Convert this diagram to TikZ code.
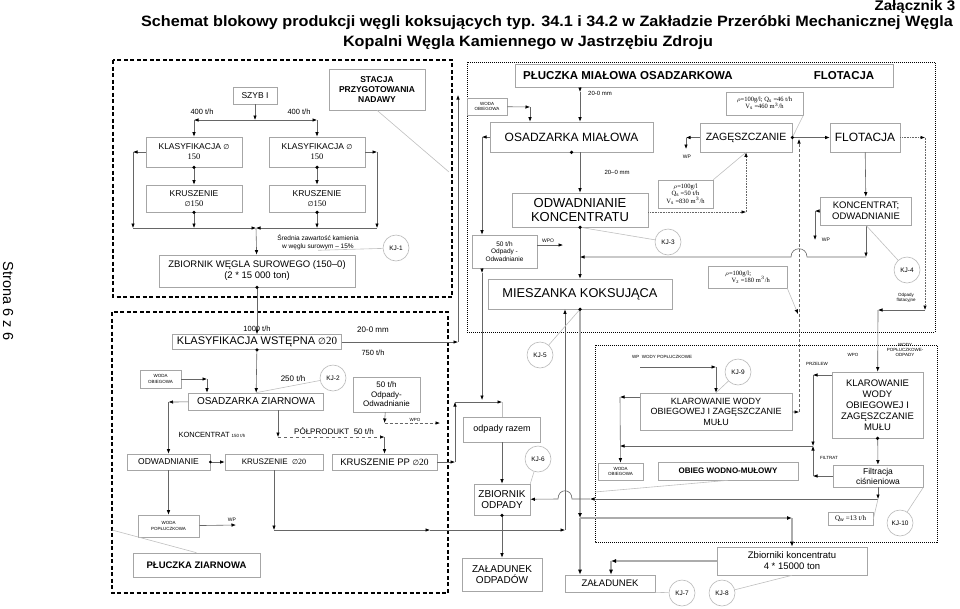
\documentclass[tikz,border=0pt]{standalone}
\usepackage{fontspec}
\setmainfont{Liberation Sans}
\newfontfamily\tnr{Liberation Serif}
\newfontfamily\dejavu{DejaVu Sans}
\usetikzlibrary{arrows.meta,positioning}
\newcommand{\fs}[2]{\fontsize{#1}{#2}\selectfont}
\newcommand{\srednica}{{\dejavu\char"2205}}
\tikzset{
  blok/.style={draw=gray!70, fill=white, line width=0.6pt, inner sep=1pt,
    align=center, font=\fs{8}{9.5}},
  wym/.style 2 args={minimum width=#1pt, minimum height=#2pt},
  strz/.style={-{Latex[length=4.5pt,width=3.5pt,color=black]}, draw=black!60, line width=0.6pt},
  gruba/.style={-{Latex[length=5pt,width=4pt,color=black]}, draw=gray!65, line width=1.8pt},
  lider/.style={draw=gray!50, line width=0.6pt},
  kj/.style={circle, draw=gray!55, fill=white, line width=0.6pt,
    minimum size=26pt, inner sep=0pt, font=\fs{6.5}{7}},
  opis/.style={font=\fs{7.5}{9}, inner sep=0.5pt, align=center},
  drobny/.style={font=\fs{4.5}{5}, inner sep=0.3pt, align=center},
  ro/.style={blok, font=\tnr\fs{6.5}{7.5}},
  obszarP/.style={draw=black, line width=1.3pt, dash pattern=on 4pt off 2.5pt},
  obszarK/.style={draw=black, line width=1pt, dash pattern=on 1pt off 1pt},
}
\begin{document}
\begin{tikzpicture}[x=1pt,y=-1pt]
  \useasboundingbox (0,0) rectangle (960,608);

  % naglowek
  \node[font=\bfseries\fs{14}{16}, xscale=1.08, anchor=east] (zal) at (959,7) {Załącznik 3};
  \node[font=\bfseries\fs{15}{17}, xscale=1.08] (tyt1) at (547,23)
    {Schemat blokowy produkcji węgli koksujących typ. 34.1 i 34.2 w Zakładzie Przeróbki Mechanicznej Węgla};
  \node[font=\bfseries\fs{15}{17}, xscale=1.08] (tyt2) at (528,43)
    {Kopalni Węgla Kamiennego w Jastrzębiu Zdroju};
  \node[font=\fs{14.5}{16}, rotate=-90] (strona) at (8,301) {Strona 6 z 6};

  % granice obszarow
  \draw[obszarP] (113,60) rectangle (452,297);
  \draw[obszarP] (112,312) rectangle (448,593);
  \draw[obszarK] (467,62) rectangle (935,332);
  \draw[obszarK] (595,345) rectangle (937,542);

  % --- wezel szybowy
  \node[blok, wym={44}{17}, font=\fs{8.5}{10}] (szyb) at (255,95.5) {SZYB I};
  \node[blok, wym={96}{41}, font=\bfseries\fs{8.5}{10}] (stacja) at (377,89.5)
    {STACJA\\PRZYGOTOWANIA\\NADAWY};
  \node[blok, wym={96}{30}, font=\fs{8.5}{10}] (klasL) at (194,152) {KLASYFIKACJA {\fs{7}{8}\srednica}\\{\tnr 150}};
  \node[blok, wym={96}{30}, font=\fs{8.5}{10}] (klasP) at (317,152) {KLASYFIKACJA {\fs{7}{8}\srednica}\\{\tnr 150}};
  \node[blok, wym={96}{27}, font=\fs{8.5}{10}] (kruL) at (194,198.5) {KRUSZENIE\\{\fs{7}{8}\srednica}{\tnr 150}};
  \node[blok, wym={96}{27}, font=\fs{8.5}{10}] (kruP) at (317,198.5) {KRUSZENIE\\{\fs{7}{8}\srednica}{\tnr 150}};
  \node[blok, wym={196}{32}, font=\fs{9.5}{11}] (zbW) at (257,271)
    {ZBIORNIK WĘGLA SUROWEGO (150–0)\\(2 * 15 000 ton)};
  \node[opis, font=\fs{6.5}{8}] (sred) at (318,242)
    {Średnia zawartość kamienia\\w węglu surowym – 15\%};
  \node[kj] (kj1) at (396,248) {KJ-1};
  \node[opis] (t400a) at (202,112) {400 t/h};
  \node[opis] (t400b) at (299,112) {400 t/h};

  \coordinate (rozS) at (255,120);
  \coordinate (rozL) at (194,120);
  \coordinate (rozP) at (317,120);
  \coordinate (obL) at (133,152);
  \coordinate (obP) at (377,152);
  \coordinate (sumL) at (133,228);
  \coordinate (sumP) at (377,228);
  \coordinate (sumS) at (256,228);
  \coordinate (stacjaK) at (449,172);

  \draw[strz] (szyb) -- (rozS);
  \draw[strz] (rozS) -- (rozL);
  \draw[strz] (rozS) -- (rozP);
  \draw[strz] (rozL) -- (klasL);
  \draw[strz] (rozP) -- (klasP);
  \draw[strz] (klasL) -- (kruL);
  \draw[strz] (klasP) -- (kruP);
  \draw[strz] (klasL) -- (obL);
  \draw[strz] (klasP) -- (obP);
  \draw[strz] (obL) -- (sumL);
  \draw[strz] (obP) -- (sumP);
  \draw[strz] (sumL) -- (sumS);
  \draw[strz] (sumP) -- (sumS);
  \draw[strz] (kruL) -- (kruL |- sumS);
  \draw[strz] (kruP) -- (kruP |- sumS);
  \draw[strz] (sumS) -- (zbW);
  \draw[lider] (kj1) -- (sred.south);
  \draw[lider] (stacja.south) -- (stacjaK);

  % --- pluczka ziarnowa
  \node[blok, wym={169}{15}, font=\fs{11}{12}] (klasW) at (257,342)
    {KLASYFIKACJA WSTĘPNA {\fs{9}{10}\srednica}{\tnr 20}};
  \node[opis, above=2pt of klasW] (t1000) {1000 t/h};
  \node[opis, font=\fs{8}{9}] (t20a) at (373,330) {20-0 mm};
  \node[opis] (t750) at (373,353) {750 t/h};
  \node[blok, wym={135}{17}, font=\fs{10}{11}] (osZ) at (256,401.5) {OSADZARKA ZIARNOWA};
  \node[opis, font=\fs{8}{9}] (t250) at (293,379) {250 t/h};
  \node[kj] (kj2) at (333,378) {KJ-2};
  \node[blok, wym={41}{18}, font=\fs{4.5}{5.5}] (wodaZ) at (160.5,379) {WODA\\OBIEGOWA};
  \node[blok, wym={67}{35}] (odpZ) at (386.5,394.5) {50 t/h\\Odpady-\\Odwadnianie};
  \node[opis] (koncT) at (212,435) {KONCENTRAT {\fs{4.5}{5}150 t/h}};
  \node[opis, font=\fs{8}{9}] (ppT) at (334,431) {PÓŁPRODUKT \ 50 t/h};
  \node[drobny] (wpoZ) at (415,420) {WPO};
  \node[blok, wym={83}{16}, font=\fs{8.5}{10}] (odwZ) at (168.5,462) {ODWADNIANIE};
  \node[blok, wym={98}{16}] (kruZ) at (274,462) {KRUSZENIE \ {\fs{7}{8}\srednica}{\tnr 20}};
  \node[blok, wym={105}{16}, font=\fs{9.5}{11}] (kruPP) at (384.5,462) {KRUSZENIE PP {\fs{7.5}{8}\srednica}{\tnr 20}};
  \node[blok, wym={61}{22}, font=\fs{4.5}{5.5}] (wodaP) at (168.5,526) {WODA\\POPŁUCZKOWA};
  \node[drobny, font=\fs{5}{6}] (wpT) at (232,520) {WP};
  \node[blok, wym={127}{24}, font=\bfseries\fs{9.5}{11}] (plZ) at (196.5,565) {PŁUCZKA ZIARNOWA};

  \coordinate (k20) at (458,342);
  \coordinate (k20g) at (458,95);
  \coordinate (wodaZk) at (207,379);
  \coordinate (konc) at (168.5,402);
  \coordinate (pp1) at (278,437);
  \coordinate (pp2) at (384.5,437);
  \coordinate (wpo1) at (384.5,423);
  \coordinate (wpo2) at (440,423);
  \coordinate (pp3) at (455,462);
  \coordinate (pp4) at (455,402);
  \coordinate (pp5) at (502,402);
  \coordinate (wp) at (236,525);
  \coordinate (gr1) at (274,530);
  \coordinate (gr1b) at (430,530);
  \coordinate (gr2) at (565,530);
  \coordinate (lz) at (112,530);

  \draw[strz] (zbW) -- (klasW);
  \draw[strz] (klasW) -- (k20);
  \draw[strz] (k20) -- (k20g);
  \draw[strz] (klasW) -- (osZ);
  \draw[lider] (kj2) -- (osZ.north);
  \draw[strz] (wodaZ) -- (wodaZk);
  \draw[strz] (wodaZk) -- (wodaZk |- osZ.north);
  \draw[strz] (osZ) -- (konc);
  \draw[strz] (konc) -- (odwZ);
  \draw[strz] (osZ.south -| pp1) -- (pp1);
  \draw[strz, dashed] (pp1) -- (pp2);
  \draw[strz] (pp2) -- (kruPP);
  \draw[strz] (odpZ) -- (wpo1);
  \draw[strz, densely dashed] (wpo1) -- (wpo2);
  \draw[strz] (kruPP) -- (pp3);
  \draw[strz] (pp3) -- (pp4);
  \draw[strz] (pp4) -- (pp5);
  \draw[strz] (odwZ) -- (kruZ);
  \draw[strz] (odwZ) -- (wodaP);
  \draw[strz] (wodaP) -- (wp);
  \draw[strz] (kruZ) -- (gr1);
  \draw[strz] (gr1) -- (gr1b);
  \draw[strz] (gr1b) -- (gr2);
  \draw[lider] (plZ.north) -- (lz);

  % --- pluczka mialowa i flotacja
  \node[blok, wym={378}{23}] (plM) at (704,75.5) {};
  \node[font=\bfseries\fs{11.5}{13}] (plMt) at (628,75.5) {PŁUCZKA MIAŁOWA OSADZARKOWA};
  \node[font=\bfseries\fs{11.5}{13}] (flT) at (844,75.5) {FLOTACJA};
  \node[blok, wym={40}{17}, font=\fs{4.5}{5.5}] (wodaM) at (487,106.5) {WODA\\OBIEGOWA};
  \node[blok, wym={163}{30}, font=\fs{12}{14}] (osM) at (571.5,137) {OSADZARKA MIAŁOWA};
  \node[opis, font=\fs{6}{7}] (t20b) at (600,93) {20-0 mm};
  \node[opis, font=\fs{6}{7}] (t20c) at (617,172) {20–0 mm};
  \node[blok, wym={136}{34}, font=\fs{13}{14.5}] (odwK) at (580,210) {ODWADNIANIE\\KONCENTRATU};
  \node[blok, wym={184}{30}, font=\fs{12.8}{14}] (mies) at (580,294) {MIESZANKA KOKSUJĄCA};
  \node[kj] (kj3) at (668,242) {KJ-3};
  \node[blok, wym={65}{33}, font=\fs{6.5}{7.5}] (odpM) at (504.5,251.5) {50 t/h\\Odpady -\\Odwadnianie};
  \node[drobny, font=\fs{5}{6}] (wpoM) at (548,241) {WPO};
  \node[blok, wym={92}{29}, font=\fs{10.5}{12}] (zag) at (746,137.5) {ZAGĘSZCZANIE};
  \node[blok, wym={70}{29}, font=\fs{12}{14}] (flot) at (865,137.5) {FLOTACJA};
  \node[blok, wym={91}{28}, font=\fs{9.5}{11}] (koncO) at (866,211) {KONCENTRAT;\\ODWADNIANIE};
  \node[ro, wym={77}{23}] (ro1) at (764.5,103.5)
    {$\rho$=100g/l; Q$_\mathrm{s}$ =46 t/h\\V$_\mathrm{s}$ =460 m$^3$/h};
  \node[ro, wym={55}{28}] (ro2) at (685.5,194)
    {$\rho$=100g/l\\Q$_\mathrm{s}$ =50 t/h\\V$_\mathrm{s}$ =830 m$^3$/h};
  \node[ro, wym={79}{22}, align=left] (ro3) at (747.5,277)
    {$\rho$=100g/l;\\\quad V$_\mathrm{z}$ =180 m$^3$/h};
  \node[drobny, font=\fs{5}{6}] (wpZ) at (687,157) {WP};
  \node[drobny, font=\fs{5}{6}] (wpK) at (826,240) {WP};
  \node[kj] (kj4) at (907,270) {KJ-4};
  \node[drobny] (odfl) at (906,298) {Odpady\\flotacyjne};
  \node[kj] (kj5) at (540,355) {KJ-5};

  \coordinate (wm1) at (530,107);
  \coordinate (m20) at (580,92);
  \coordinate (l1) at (482,137);
  \coordinate (l1b) at (482,273);
  \coordinate (l2) at (482,400);
  \coordinate (wpoK) at (563,245);
  \coordinate (zw1) at (686,137.5);
  \coordinate (zw2) at (686,149);
  \coordinate (zd1) at (746,212);
  \coordinate (fl1) at (925,137.5);
  \coordinate (fl2) at (925,310);
  \coordinate (fl3) at (878,310);
  \coordinate (ko1) at (815,211);
  \coordinate (ko2) at (815,240);
  \coordinate (ko3) at (866,257);
  \coordinate (ko4) at (580,257);
  \coordinate (v0) at (799,139);
  \coordinate (v1) at (799,412);
  \coordinate (r3k) at (798,314);
  \coordinate (gl1) at (580,518);
  \coordinate (gl2) at (792,518);
  \coordinate (gl3) at (611,561);

  \draw[strz] (wodaM) -- (wm1);
  \draw[strz] (wm1) -- (wm1 |- osM.north);
  \draw[strz] (plM.south -| m20) -- (m20);
  \draw[strz] (m20) -- (m20 |- osM.north);
  \draw[strz] (osM.south -| odwK.north) -- (odwK);
  \draw[strz] (odwK) -- (mies);
  \draw[lider] (odwK.south) -- (kj3);
  \draw[strz] (osM) -- (l1);
  \draw[strz] (l1) -- (l1 |- odpM.north);
  \draw[strz] (l1 |- odpM.south) -- (l1b);
  \draw[strz] (l1b) -- (l2);
  \draw[strz] (odpM.east |- wpoK) -- (wpoK);
  \draw[strz] (zag) -- (flot);
  \draw[strz] (zag) -- (zw1);
  \draw[strz] (zw1) -- (zw2);
  \draw[strz, densely dotted] (odwK.east |- zd1) -- (zd1);
  \draw[strz, densely dotted] (zd1) -- (zag);
  \draw[lider] (ro1.south east) -- (zag.east);
  \draw[lider] (ro2.north east) -- (zag.south);
  \draw[strz, densely dotted] (flot) -- (fl1);
  \draw[strz, densely dotted] (fl1) -- (fl2);
  \draw[strz] (fl2) -- (fl3);
  \draw[strz] (flot) -- (koncO);
  \draw[strz] (koncO) -- (ko1);
  \draw[strz] (ko1) -- (ko2);
  \draw[strz] (koncO) -- (ko3);
  \draw[strz] (ko3) -- (807,257) .. controls (807,246) and (791,246) .. (791,257) -- (ko4);
  \draw[lider] (koncO.south) -- (kj4);
  \draw[lider, -{Latex[length=4.5pt,width=3.5pt,color=black]}] (ro3.south east) -- (r3k);
  \draw[strz] (gr2) -- (gr2 |- mies.south);
  \draw[lider] (mies.south) -- (kj5);
  \draw[gruba] (mies.south) -- (gl1);
  \draw[gruba] (gl1) -- (gl2);

  % --- odpady
  \node[blok, wym={77}{25}, font=\fs{9}{10}] (odpR) at (502,429.5) {odpady razem};
  \node[blok, wym={56}{31}, font=\fs{10}{11.5}] (zbO) at (502,499.5) {ZBIORNIK\\ODPADY};
  \node[blok, wym={80}{33}, font=\fs{10}{11.5}] (zalO) at (502,574.5) {ZAŁADUNEK\\ODPADÓW};
  \node[kj] (kj6) at (538,459) {KJ-6};
  \draw[lider] (pp5) -- (odpR);
  \draw[strz] (odpR) -- (zbO);
  \draw[lider] (kj6) -- (zbO.north east);
  \draw[strz] (zbO) -- (zalO);

  % --- obieg wodno-mulowy
  \node[blok, wym={152}{37}, font=\fs{9}{10.5}] (klL) at (716,411.5)
    {KLAROWANIE WODY\\OBIEGOWEJ I ZAGĘSZCZANIE\\MUŁU};
  \node[blok, wym={91}{66}, font=\fs{9.5}{11}] (klP) at (877.5,405)
    {KLAROWANIE\\WODY\\OBIEGOWEJ I\\ZAGĘSZCZANIE\\MUŁU};
  \node[blok, wym={90}{22}, font=\fs{8.5}{10}] (filtr) at (878,476) {Filtracja\\ciśnieniowa};
  \node[blok, wym={45}{17}, font=\fs{4.5}{5.5}] (wodaO) at (620.5,471.5) {WODA\\OBIEGOWA};
  \node[blok, wym={140}{18}, font=\bfseries\fs{8}{10}] (obieg) at (728,471) {OBIEG WODNO-MUŁOWY};
  \node[kj] (kj9) at (738,372) {KJ-9};
  \node[kj] (kj10) at (900,523) {KJ-10};
  \node[ro, wym={45}{13}, font=\tnr\fs{7}{8}] (qw) at (850.5,519) {Q$_\mathrm{w}$ =13 t/h};
  \node[drobny] (wpT2) at (662,357) {WP \ WODY POPŁUCZKOWE};
  \node[drobny] (przT) at (817,364) {PRZELEW};
  \node[drobny] (filT) at (829,458) {FILTRAT};
  \node[drobny] (wpoT) at (853,355) {WPO};
  \node[drobny] (wpodT) at (905,350) {WODY\\POPŁUCZKOWE-\\ODPADY};
  \node[blok, wym={90}{17}, font=\fs{9.5}{11}] (zalK) at (610,583.5) {ZAŁADUNEK};
  \node[blok, wym={150}{28}, font=\fs{9.5}{11}] (zbK) at (792,561)
    {Zbiorniki koncentratu\\4 * 15000 ton};
  \node[kj] (kj7) at (682,593) {KJ-7};
  \node[kj] (kj8) at (722,593) {KJ-8};

  \coordinate (wp1) at (640,367);
  \coordinate (wp2) at (716,367);
  \coordinate (ob1) at (620,397);
  \coordinate (ob2) at (620,446);
  \coordinate (pz) at (813,375);
  \coordinate (pz2) at (813,446);
  \coordinate (fi) at (813,476);
  \coordinate (f1) at (878,499);
  \coordinate (f2) at (590,499);
  \coordinate (lo) at (595,492);

  \draw[strz] (wp1) -- (wp2);
  \draw[strz] (wp2) -- (klL);
  \draw[lider] (kj9) -- (klL.north);
  \draw[strz] (klL.west |- ob1) -- (ob1);
  \draw[strz] (ob1) -- (wodaO);
  \draw[strz] (klP.west |- pz) -- (pz);
  \draw[strz] (pz) -- (pz2);
  \draw[strz] (filtr) -- (fi);
  \draw[strz] (fi) -- (pz2);
  \draw[strz] (pz2) -- (ob2);
  \draw[strz] (fl3) -- (klP);
  \draw[strz] (klP) -- (filtr);
  \draw[strz, densely dashed] (klL) -- (v1);
  \draw[strz, densely dashed] (v1) -- (v0);
  \draw[strz] (filtr) -- (f1);
  \draw[strz] (f1) -- (f2);
  \draw[strz] (f2) -- (572,499) .. controls (572,488) and (558,488) .. (558,499) -- (zbO);
  \draw[lider] (qw.east) -- (f1);
  \draw[lider] (filtr.south east) -- (kj10);
  \draw[lider] (obieg.south) -- (lo);
  \draw[gruba] (gl2) -- (gl2 |- zbK.north);
  \draw[gruba] (gl1) -- (gl1 |- zalK.north);
  \draw[gruba] (zbK) -- (gl3);
  \draw[gruba] (gl3) -- (gl3 |- zalK.north);
  \draw[lider] (zalK.south east) -- (kj7);
  \draw[lider] (zbK.south) -- (kj8);

  % kropki na wyjsciach
  \foreach \w in {klasL,klasP,kruL,kruP,zbW,klasW,osM,odwK,mies,zbO,klP}
    {\fill (\w.south) circle[radius=1.8pt];}
  \fill (zag.east) circle[radius=1.8pt];
  \fill (odwZ.east) circle[radius=1.5pt];
\end{tikzpicture}
\end{document}
